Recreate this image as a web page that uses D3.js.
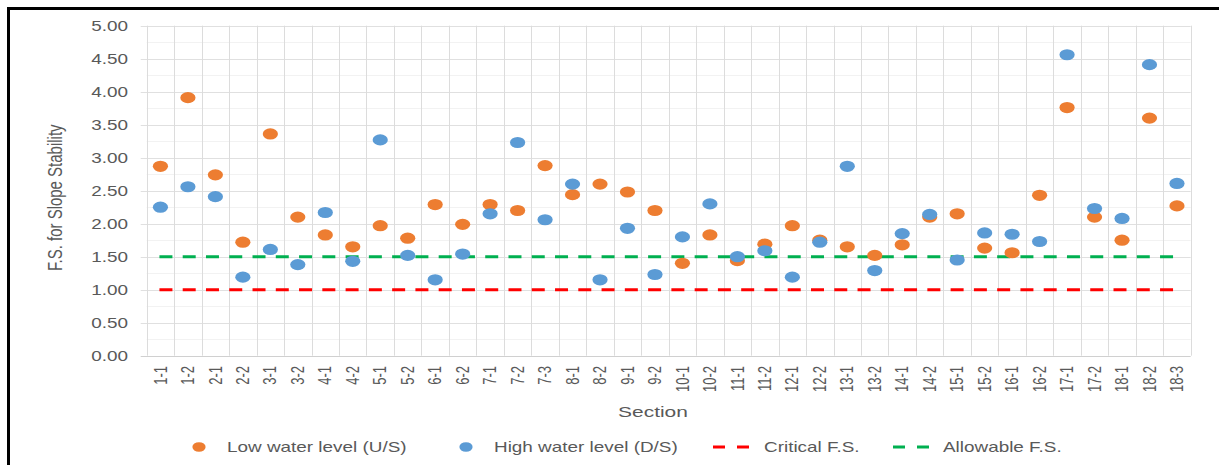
<!DOCTYPE html>
<html><head><meta charset="utf-8">
<script src="https://cdn.jsdelivr.net/npm/d3@7"></script>
<style>html,body{margin:0;padding:0;background:#fff;}svg{display:block;}</style>
</head><body>
<svg id="chart" width="1219" height="465"></svg>
<script>
const categories = ["1-1","1-2","2-1","2-2","3-1","3-2","4-1","4-2","5-1","5-2","6-1","6-2","7-1","7-2","7-3","8-1","8-2","9-1","9-2","10-1","10-2","11-1","11-2","12-1","12-2","13-1","13-2","14-1","14-2","15-1","15-2","16-1","16-2","17-1","17-2","18-1","18-2","18-3"];
const lowWater = [2.87,3.91,2.74,1.72,3.36,2.10,1.83,1.65,1.97,1.78,2.29,1.99,2.29,2.20,2.88,2.44,2.60,2.48,2.20,1.40,1.83,1.44,1.69,1.97,1.75,1.65,1.52,1.68,2.10,2.15,1.63,1.56,2.43,3.76,2.10,1.75,3.60,2.27];
const highWater = [2.25,2.56,2.41,1.19,1.61,1.38,2.17,1.43,3.27,1.52,1.15,1.54,2.15,3.23,2.06,2.60,1.15,1.93,1.23,1.80,2.30,1.50,1.59,1.19,1.72,2.87,1.29,1.85,2.14,1.45,1.86,1.84,1.73,4.56,2.23,2.08,4.41,2.61];
const criticalFS = 1.0;
const allowableFS = 1.5;
const yTicks = [0,0.5,1,1.5,2,2.5,3,3.5,4,4.5,5];
const seriesNames = ["Low water level (U/S)","High water level (D/S)","Critical F.S.","Allowable F.S."];

const svg = d3.select("#chart");
const SX = 1.35; // horizontal stretch of text
const FONT = "Liberation Sans, Arial, sans-serif";
const TXT = "#595959";
const ORANGE = "#ED7D31", BLUE = "#5B9BD5", RED = "#FF0000", GREEN = "#00B050";

const pLeft = 146.7, pRight = 1190.7, pTop = 25.7, pBottom = 355.7;
const x = d3.scaleBand().domain(categories).range([pLeft, pRight]).padding(0);
const y = d3.scaleLinear().domain([0, 5]).range([pBottom, pTop]);

// frame
svg.append("line").attr("x1",7).attr("x2",1219).attr("y1",8.5).attr("y2",8.5).attr("stroke","#000").attr("stroke-width",3);
svg.append("line").attr("x1",8.5).attr("x2",8.5).attr("y1",7).attr("y2",465).attr("stroke","#000").attr("stroke-width",3);

// minor horizontal grid
const minor = d3.range(0.25, 5, 0.5);
svg.append("g").selectAll("line").data(minor).join("line")
  .attr("x1", pLeft).attr("x2", pRight)
  .attr("y1", d => Math.round(y(d))+0.5).attr("y2", d => Math.round(y(d))+0.5)
  .attr("stroke", "#f2f2f2").attr("stroke-width", 1);
// major horizontal grid + ticks
svg.append("g").selectAll("line").data(yTicks).join("line")
  .attr("x1", pLeft - 6).attr("x2", pRight)
  .attr("y1", d => Math.round(y(d))+0.5).attr("y2", d => Math.round(y(d))+0.5)
  .attr("stroke", d => d === 0 ? "#d0d0d0" : "#e0e0e0").attr("stroke-width", 1);
// vertical grid at band edges
const edges = categories.map(c => x(c)).concat([pRight]);
svg.append("g").selectAll("line").data(edges).join("line")
  .attr("x1", d => Math.round(d)+0.5).attr("x2", d => Math.round(d)+0.5)
  .attr("y1", pTop).attr("y2", pBottom)
  .attr("stroke", "#dcdcdc").attr("stroke-width", 1);

// y tick labels
svg.append("g").selectAll("g").data(yTicks).join("g")
  .attr("transform", d => `translate(128,${y(d)+5}) scale(${SX},1)`)
  .append("text").attr("text-anchor","end").attr("font-family",FONT).attr("font-size",14).attr("fill",TXT)
  .text(d => d3.format(".2f")(d));

// x tick labels (rotated)
svg.append("g").selectAll("g").data(categories).join("g")
  .attr("transform", d => `translate(${x(d)+x.bandwidth()/2},366) scale(${SX},1) rotate(-90)`)
  .append("text").attr("text-anchor","end").attr("dy","0.35em").attr("font-family",FONT).attr("font-size",13).attr("fill",TXT)
  .text(d => d);

// axis titles
svg.append("g").attr("transform", `translate(653,416.5) scale(${SX},1)`)
  .append("text").attr("text-anchor","middle").attr("font-family",FONT).attr("font-size",15.5).attr("fill",TXT).text("Section");
svg.append("g").attr("transform", `translate(55,${(pTop+pBottom)/2+7}) scale(${SX},1) rotate(-90)`)
  .append("text").attr("text-anchor","middle").attr("dy","0.35em").attr("font-family",FONT).attr("font-size",15).attr("fill",TXT).text("F.S. for Slope Stability");

// reference lines
const x0 = x(categories[0]) + x.bandwidth()/2, x1 = x(categories[categories.length-1]) + x.bandwidth()/2;
[[criticalFS, RED],[allowableFS, GREEN]].forEach(([v,c]) => {
  svg.append("line").attr("x1", x0 - 1).attr("x2", x1).attr("y1", y(v)).attr("y2", y(v))
    .attr("stroke", c).attr("stroke-width", 3).attr("stroke-dasharray", "13,10.27");
});

// points
svg.append("g").selectAll("ellipse").data(lowWater).join("ellipse")
  .attr("cx", (d,i) => x(categories[i]) + x.bandwidth()/2).attr("cy", d => y(d))
  .attr("rx", 7.6).attr("ry", 5.6).attr("fill", ORANGE);
svg.append("g").selectAll("ellipse").data(highWater).join("ellipse")
  .attr("cx", (d,i) => x(categories[i]) + x.bandwidth()/2).attr("cy", d => y(d))
  .attr("rx", 7.6).attr("ry", 5.6).attr("fill", BLUE);

// legend
const legY = 447;
const leg = [
  {name: seriesNames[0], type: "dot", color: ORANGE, mx: 199, tx: 227},
  {name: seriesNames[1], type: "dot", color: BLUE, mx: 466, tx: 494},
  {name: seriesNames[2], type: "dash", color: RED, mx: 731, tx: 764},
  {name: seriesNames[3], type: "dash", color: GREEN, mx: 911, tx: 943}
];
leg.forEach(l => {
  if (l.type === "dot") {
    svg.append("ellipse").attr("cx", l.mx).attr("cy", legY).attr("rx", 6.6).attr("ry", 4.8).attr("fill", l.color);
  } else {
    svg.append("line").attr("x1", l.mx - 18).attr("x2", l.mx + 18).attr("y1", legY).attr("y2", legY)
      .attr("stroke", l.color).attr("stroke-width", 3).attr("stroke-dasharray", "12,12");
  }
  svg.append("g").attr("transform", `translate(${l.tx},${legY+5}) scale(${SX},1)`)
    .append("text").attr("font-family",FONT).attr("font-size",14).attr("fill",TXT).text(l.name);
});
</script>
</body></html>
